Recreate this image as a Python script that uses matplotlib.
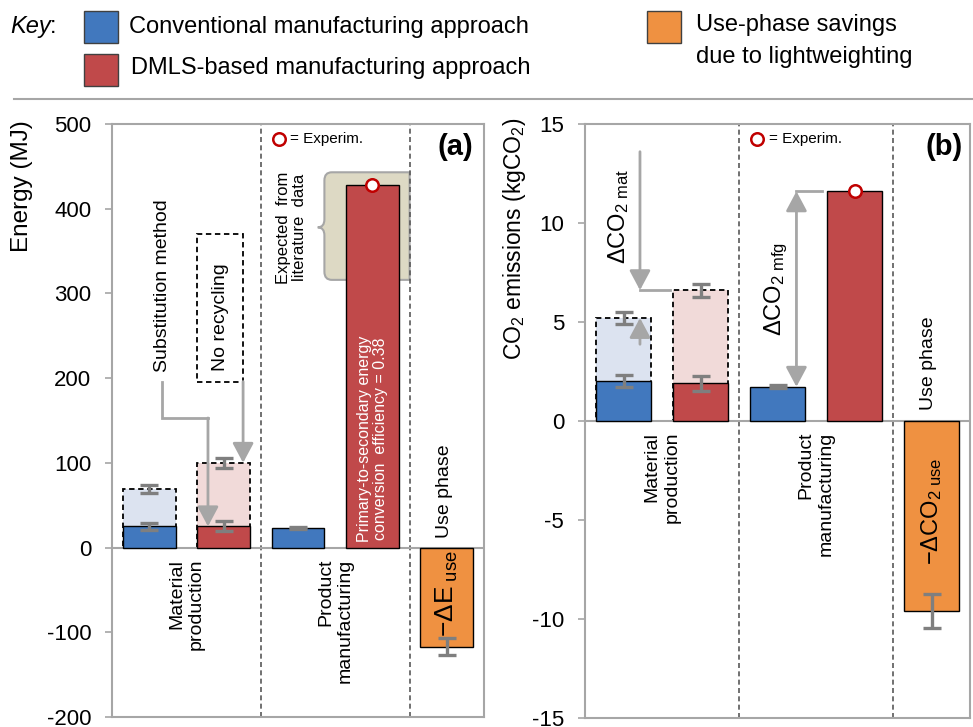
import matplotlib
matplotlib.use('Agg')
import matplotlib.pyplot as plt
from matplotlib.patches import Rectangle, PathPatch
from matplotlib.path import Path
from matplotlib.lines import Line2D

plt.rcParams['font.family'] = ['Liberation Sans', 'DejaVu Sans']
plt.rcParams['mathtext.fontset'] = 'custom'
plt.rcParams['mathtext.rm'] = 'Liberation Sans'
plt.rcParams['mathtext.it'] = 'Liberation Sans:italic'
plt.rcParams['mathtext.bf'] = 'Liberation Sans:bold'
plt.rcParams['axes.unicode_minus'] = False

# ---------------- data ----------------
stages = ['Material\nproduction', 'Product\nmanufacturing']
# energy (MJ): [material production, product manufacturing]
energy_conv = [25, 23]
energy_conv_err = [4, 1]
energy_dmls = [25, 428]
energy_dmls_err = [6, 0]
energy_subst_conv = 69          # substitution method (conventional)
energy_subst_conv_err = 4.5
energy_norec_dmls = 100         # no recycling (DMLS)
energy_norec_dmls_err = 5.5
energy_use = -117
energy_use_err = 10
energy_experim = 428

# CO2 (kgCO2)
co2_conv = [2.0, 1.72]
co2_conv_err = [0.3, 0.08]
co2_dmls = [1.9, 11.6]
co2_dmls_err = [0.38, 0]
co2_subst_conv = 5.2
co2_subst_conv_err = 0.3
co2_norec_dmls = 6.6
co2_norec_dmls_err = 0.32
co2_use = -9.6
co2_use_err = 0.86
co2_experim = 11.6

energy_ticks = [-200, -100, 0, 100, 200, 300, 400, 500]
co2_ticks = [-15, -10, -5, 0, 5, 10, 15]

# ---------------- style ----------------
BLUE = '#4178BE'
RED = '#C0494A'
ORANGE = '#EF9141'
LBLUE = '#DCE3F0'
LPINK = '#F1DAD9'
BEIGE = '#DDD9C4'
GRAY = '#A6A6A6'
EGRAY = '#7F7F7F'
W = 0.71

fig = plt.figure(figsize=(9.73, 7.27), dpi=100)
ax_a = fig.add_axes([112/973, 1-717/727, (484-112)/973, (717-124)/727])
ax_b = fig.add_axes([585/973, 1-717.7/727, (970-585)/973, (717.7-124)/727])


def draw_panel(ax, conv, conv_err, dmls, dmls_err, subst, subst_err,
               norec, norec_err, use, use_err, experim, ylim, ticks):
    x_conv = [0, 2]
    x_dmls = [1, 3]
    ax.set_xlim(-0.5, 4.5)
    ax.set_ylim(*ylim)
    ax.set_yticks(ticks)
    ax.set_yticklabels([str(t) for t in ticks])
    ax.set_xticks([])
    for s in ax.spines.values():
        s.set_color(GRAY)
        s.set_linewidth(1.5)
    ax.tick_params(axis='y', direction='out', length=5, width=1.2,
                   color=GRAY, labelsize=16, pad=10)
    # light dashed boxes
    ax.bar([0], [subst], width=W, color=LBLUE, edgecolor='black',
           linestyle=(0, (3, 2)), linewidth=1.3, zorder=2)
    ax.bar([1], [norec], width=W, color=LPINK, edgecolor='black',
           linestyle=(0, (3, 2)), linewidth=1.3, zorder=2)
    # solid bars
    ax.bar(x_conv, conv, width=W, color=BLUE, edgecolor='black',
           linewidth=1.0, zorder=3)
    ax.bar(x_dmls, dmls, width=W, color=RED, edgecolor='black',
           linewidth=1.0, zorder=3)
    ax.bar([4], [use], width=W, color=ORANGE, edgecolor='black',
           linewidth=1.0, zorder=3)
    # error bars
    ex, ey, ee = [], [], []
    for xs, vals, errs in ((x_conv, conv, conv_err), (x_dmls, dmls, dmls_err)):
        for xx, v, e in zip(xs, vals, errs):
            if e > 0:
                ex.append(xx); ey.append(v); ee.append(e)
    ex += [0, 1, 4]
    ey += [subst, norec, use]
    ee += [subst_err, norec_err, use_err]
    ax.errorbar(ex, ey, yerr=ee, fmt='none', ecolor=EGRAY, elinewidth=2.4,
                capsize=6.5, capthick=2.4, zorder=5)
    ax.plot([3], [experim], 'o', mfc='white', mec='#C00000', mew=1.8, ms=9,
            zorder=6)
    ax.axhline(0, color=GRAY, lw=1.5, zorder=2.5)
    for xd in (1.5, 3.5):
        ax.axvline(xd, color='#595959', lw=1.2, ls=(0, (3, 2)), zorder=1.5)
    # category labels
    for xc, lab in zip((0.5, 2.5), stages):
        ax.annotate(lab, (xc, 0), xytext=(0, -8), textcoords='offset points',
                    rotation=90, ha='center', va='top', multialignment='right',
                    fontsize=14)
    # experim legend
    ax.plot([0.448], [0.975], 'o', transform=ax.transAxes, mfc='white',
            mec='#C00000', mew=1.8, ms=9, zorder=6, clip_on=False)
    ax.text(0.478, 0.975, '= Experim.', transform=ax.transAxes,
            ha='left', va='center', fontsize=11)


draw_panel(ax_a, energy_conv, energy_conv_err, energy_dmls, energy_dmls_err,
           energy_subst_conv, energy_subst_conv_err, energy_norec_dmls,
           energy_norec_dmls_err, energy_use, energy_use_err, energy_experim,
           (-200, 500), energy_ticks)
draw_panel(ax_b, co2_conv, co2_conv_err, co2_dmls, co2_dmls_err,
           co2_subst_conv, co2_subst_conv_err, co2_norec_dmls,
           co2_norec_dmls_err, co2_use, co2_use_err, co2_experim,
           (-15, 15), co2_ticks)

ax_a.text(0.922, 0.962, '(a)', transform=ax_a.transAxes, ha='center',
          va='center', fontsize=21, fontweight='bold')
ax_b.text(0.932, 0.962, '(b)', transform=ax_b.transAxes, ha='center',
          va='center', fontsize=21, fontweight='bold')

AP = dict(arrowstyle='-|>,head_length=0.6,head_width=0.32', color=GRAY,
          lw=2, mutation_scale=20, shrinkA=0, shrinkB=0)
AP2 = dict(AP, arrowstyle='<|-|>,head_length=0.6,head_width=0.32')

# ---- panel (a) annotations ----
xl, xr, top, bot, mid, d = 2.355, 3.5, 443, 316, 378, 0.09
rx, ry = 0.10, 9.5
verts = [(xr, top), (xl + rx, top), (xl, top), (xl, top - ry),
         (xl, mid + ry), (xl, mid), (xl - d, mid), (xl, mid), (xl, mid - ry),
         (xl, bot + ry), (xl, bot), (xl + rx, bot), (xr, bot), (xr, top)]
codes = [Path.MOVETO, Path.LINETO, Path.CURVE3, Path.CURVE3,
         Path.LINETO, Path.CURVE3, Path.CURVE3, Path.CURVE3, Path.CURVE3,
         Path.LINETO, Path.CURVE3, Path.CURVE3, Path.LINETO, Path.CLOSEPOLY]
ax_a.add_patch(PathPatch(Path(verts, codes), facecolor=BEIGE, edgecolor=GRAY,
                         lw=1.5, zorder=1))
ax_a.text(1.91, 378, 'Expected  from\nliterature  data', rotation=90,
          ha='center', va='center', fontsize=12, linespacing=1.1)
ax_a.text(3.0, 128, 'Primary-to-secondary energy\nconversion  efficiency = 0.38',
          rotation=90, ha='center', va='center', fontsize=11.5, color='white',
          linespacing=1.15, zorder=6)
ax_a.text(0.175, 309, 'Substitution method', rotation=90, ha='center',
          va='center', fontsize=14)
ax_a.add_patch(Rectangle((0.644, 196), 1.262 - 0.644, 370 - 196,
                         facecolor='white', edgecolor='black',
                         ls=(0, (3, 2)), lw=1.3, zorder=2))
ax_a.text(0.953, 272, 'No recycling', rotation=90, ha='center', va='center',
          fontsize=14, zorder=3)
ax_a.plot([0.175, 0.175, 0.79], [195, 153, 153], color=GRAY, lw=2, zorder=4,
          solid_joinstyle='miter')
ax_a.annotate('', xy=(0.79, 25), xytext=(0.79, 153), arrowprops=AP, zorder=4)
ax_a.annotate('', xy=(1.262, 100), xytext=(1.262, 196), arrowprops=AP, zorder=4)
ax_a.text(3.97, 67, 'Use phase', rotation=90, ha='center', va='center',
          fontsize=14)
ax_a.text(4.0, -54, r'$\mathregular{−ΔE_{\ use}}$', rotation=90, ha='center',
          va='center', fontsize=19, zorder=6)

# ---- panel (b) annotations ----
ax_b.annotate('', xy=(0.214, co2_norec_dmls), xytext=(0.214, 13.6),
              arrowprops=AP, zorder=4)
ax_b.annotate('', xy=(0.214, co2_subst_conv), xytext=(0.214, 3.87),
              arrowprops=AP, zorder=6)
ax_b.plot([0.214, 0.6], [co2_norec_dmls, co2_norec_dmls], color=GRAY, lw=2,
          zorder=4)
ax_b.text(-0.06, 10.3, r'$\mathregular{ΔCO_{2\ mat}}$', rotation=90,
          ha='center', va='center', fontsize=17)
ax_b.annotate('', xy=(2.246, co2_dmls[1]), xytext=(2.246, co2_conv[1]),
              arrowprops=AP2, zorder=4)
ax_b.plot([2.246, 2.58], [co2_dmls[1], co2_dmls[1]], color=GRAY, lw=2,
          zorder=4)
ax_b.text(1.99, 6.65, r'$\mathregular{ΔCO_{2\ mfg}}$', rotation=90,
          ha='center', va='center', fontsize=17)
ax_b.text(3.96, 2.9, 'Use phase', rotation=90, ha='center', va='center',
          fontsize=14)
ax_b.text(4.0, -4.56, r'$\mathregular{−ΔCO_{2\ use}}$', rotation=90,
          ha='center', va='center', fontsize=17, zorder=6)

# ---- y labels ----
fig.text(22/973, 1-186/727, 'Energy (MJ)', rotation=90, ha='center',
         va='center', fontsize=17.5)
fig.text(515/973, 1-239/727, r'CO$_2$ emissions (kgCO$_2$)', rotation=90,
         ha='center', va='center', fontsize=16.5)

# ---- key ----
def fx(px):
    return px / 973

def fy(py):
    return 1 - py / 727

for (x0, y0, c) in ((84, 43, BLUE), (84, 86, RED), (647, 43, ORANGE)):
    fig.add_artist(Rectangle((fx(x0), fy(y0)), 34/973, 32/727,
                             transform=fig.transFigure, facecolor=c,
                             edgecolor='#404040', lw=1.0))
fig.text(fx(10), fy(27), 'Key', style='italic', ha='left', va='center',
         fontsize=17)
fig.text(fx(50), fy(27), ':', ha='left', va='center', fontsize=17)
fig.text(fx(129), fy(27), 'Conventional manufacturing approach', ha='left',
         va='center', fontsize=17)
fig.text(fx(131), fy(68), 'DMLS-based manufacturing approach', ha='left',
         va='center', fontsize=17)
fig.text(fx(696), fy(25), 'Use-phase savings', ha='left', va='center',
         fontsize=17)
fig.text(fx(696), fy(57), 'due to lightweighting', ha='left', va='center',
         fontsize=17)
fig.add_artist(Line2D([fx(14), 1.0], [fy(99), fy(99)],
                      transform=fig.transFigure, color=GRAY, lw=1.5))

fig.savefig('out.png', dpi=100)
